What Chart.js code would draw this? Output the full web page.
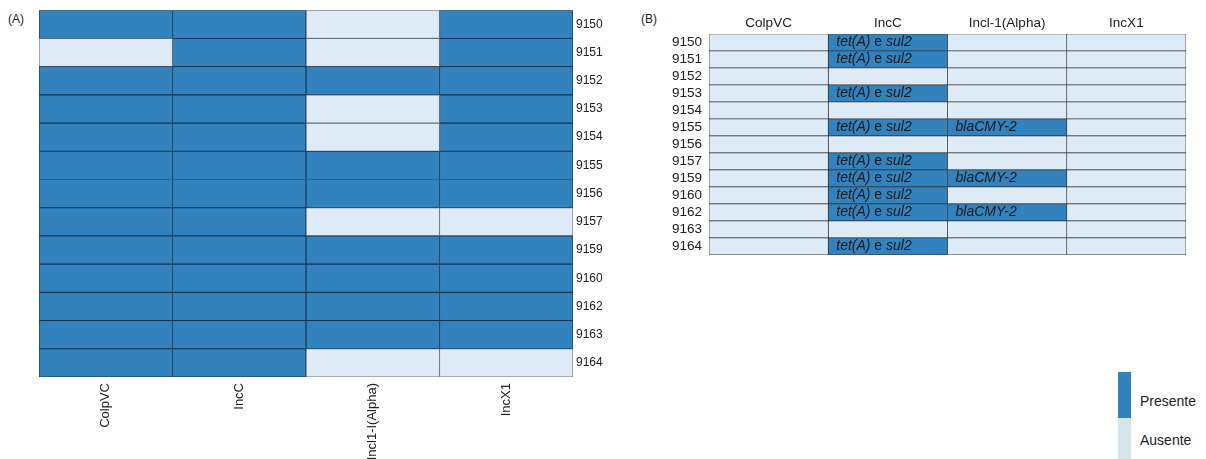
<!DOCTYPE html>
<html>
<head>
<meta charset="utf-8">
<script src="https://cdn.jsdelivr.net/npm/chart.js@4.4.1/dist/chart.umd.min.js"></script>
<style>
    body { margin: 0; background: #fff; font-family: 'Liberation Sans', Arial, sans-serif; }
    .wrap { position: relative; width: 1206px; height: 459px; overflow: hidden; }
    canvas { position: absolute; }
    .tag { position: absolute; font-size: 12px; color: #222; }
    .key { position: absolute; left: 1118px; width: 13px; }
    .key-label { position: absolute; left: 1140px; font-size: 14px; color: #222; }
</style>
</head>
<body>
<div class="wrap">
    <div class="tag" style="left:8px; top:12px;">(A)</div>
    <div class="tag" style="left:641px; top:12px;">(B)</div>
    <canvas id="heatA" width="620" height="459" style="left:0; top:0;"></canvas>
    <canvas id="heatB" width="566" height="270" style="left:640px; top:0;"></canvas>
    <div class="key" style="top:372px; height:46px; background:#3182bd;"></div>
    <div class="key" style="top:418px; height:45px; background:#d4e6e8;"></div>
    <div class="key-label" style="top:393px;">Presente</div>
    <div class="key-label" style="top:432px;">Ausente</div>
</div>
<script>
// Isolates (rows) and replicons (columns)
const rowsA = ['9150', '9151', '9152', '9153', '9154', '9155', '9156', '9157', '9159', '9160', '9162', '9163', '9164'];
const colsA = ['ColpVC', 'IncC', 'Incl1-I(Alpha)', 'IncX1'];

// 1 = presente, 0 = ausente
const colpVC = [1, 0, 1, 1, 1, 1, 1, 1, 1, 1, 1, 1, 1];
const incC   = [1, 1, 1, 1, 1, 1, 1, 1, 1, 1, 1, 1, 1];
const incl1  = [0, 0, 1, 0, 0, 1, 1, 0, 1, 1, 1, 1, 0];
const incX1  = [1, 1, 1, 1, 1, 1, 1, 0, 1, 1, 1, 1, 0];

// Resistance genes carried by each replicon
const rowsB = rowsA;
const colsB = ['ColpVC', 'IncC', 'Incl-1(Alpha)', 'IncX1'];
const genesColpVC = ['', '', '', '', '', '', '', '', '', '', '', '', ''];
const genesIncC = ['tet(A) e sul2', 'tet(A) e sul2', '', 'tet(A) e sul2', '', 'tet(A) e sul2', '',
    'tet(A) e sul2', 'tet(A) e sul2', 'tet(A) e sul2', 'tet(A) e sul2', '', 'tet(A) e sul2'];
const genesIncl1 = ['', '', '', '', '', 'blaCMY-2', '', '', 'blaCMY-2', '', 'blaCMY-2', '', ''];
const genesIncX1 = ['', '', '', '', '', '', '', '', '', '', '', '', ''];

const DARK = '#3182bd';
const LIGHT = '#deebf7';
const FONT = "'Liberation Sans', Arial, sans-serif";

// one floating bar per cell: column i spans [i, i + 1] on the value axis
function column(i, present) {
    return {
        data: present.map(() => [i, i + 1]),
        backgroundColor: present.map(p => p ? DARK : LIGHT),
        borderColor: present.map(p => p ? '#1a3650' : '#65717b'),
        borderWidth: 0.9,
        borderSkipped: false,
        grouped: false,
        barPercentage: 1,
        categoryPercentage: 1
    };
}

function centredTicks(names) {
    return function(scale) {
        scale.ticks = names.map((_, i) => ({ value: i + 0.5 }));
    };
}

// Panel A
new Chart(document.getElementById('heatA'), {
    type: 'bar',
    data: {
        labels: rowsA,
        datasets: [colpVC, incC, incl1, incX1].map((p, i) => column(i, p))
    },
    options: {
        indexAxis: 'y',
        responsive: false,
        animation: false,
        layout: { padding: { left: 39, top: 10, right: 0, bottom: 0 } },
        plugins: { legend: { display: false }, tooltip: { enabled: false } },
        scales: {
            x: {
                type: 'linear',
                min: 0,
                max: colsA.length,
                afterBuildTicks: centredTicks(colsA),
                afterFit: s => { s.height = 82; },
                grid: { display: false, drawTicks: false },
                border: { display: false },
                ticks: {
                    autoSkip: false,
                    minRotation: 90,
                    maxRotation: 90,
                    padding: 6,
                    color: '#222',
                    font: { family: FONT, size: 13 },
                    callback: (v, i) => colsA[i]
                }
            },
            y: {
                position: 'right',
                afterFit: s => { s.width = 47; },
                grid: { display: false, drawTicks: false },
                border: { display: false },
                ticks: { autoSkip: false, padding: 3, color: '#222', font: { family: FONT, size: 12 } }
            }
        }
    }
});

// Gene names in italics, the joining "e" upright
const cellText = {
    id: 'cellText',
    afterDatasetsDraw(chart) {
        const ctx = chart.ctx;
        ctx.save();
        ctx.fillStyle = '#1a1a1a';
        ctx.textBaseline = 'middle';
        chart.data.datasets.forEach((ds, di) => {
            chart.getDatasetMeta(di).data.forEach((bar, i) => {
                const txt = ds.genes[i];
                if (!txt) return;
                let x = Math.min(bar.x, bar.base) + 8;
                txt.split(' e ').forEach((part, k) => {
                    if (k > 0) {
                        ctx.font = '14px ' + FONT;
                        ctx.fillText(' e ', x, bar.y);
                        x += ctx.measureText(' e ').width;
                    }
                    ctx.font = 'italic 14px ' + FONT;
                    ctx.fillText(part, x, bar.y);
                    x += ctx.measureText(part).width;
                });
            });
        });
        ctx.restore();
    }
};

// Panel B
const genesB = [genesColpVC, genesIncC, genesIncl1, genesIncX1];
new Chart(document.getElementById('heatB'), {
    type: 'bar',
    data: {
        labels: rowsB,
        datasets: genesB.map((g, i) => {
            const ds = column(i, g.map(t => t ? 1 : 0));
            ds.borderColor = '#333';
            ds.borderWidth = 0.7;
            ds.genes = g;
            return ds;
        })
    },
    options: {
        indexAxis: 'y',
        responsive: false,
        animation: false,
        layout: { padding: { left: 0, top: 0, right: 20, bottom: 15 } },
        plugins: { legend: { display: false }, tooltip: { enabled: false } },
        scales: {
            x: {
                type: 'linear',
                position: 'top',
                min: 0,
                max: colsB.length,
                afterBuildTicks: centredTicks(colsB),
                afterFit: s => { s.height = 34; },
                grid: { display: false, drawTicks: false },
                border: { display: false },
                ticks: {
                    autoSkip: false,
                    minRotation: 0,
                    maxRotation: 0,
                    padding: 3,
                    color: '#222',
                    font: { family: FONT, size: 13.5 },
                    callback: (v, i) => colsB[i]
                }
            },
            y: {
                afterFit: s => { s.width = 69; },
                grid: { display: false, drawTicks: false },
                border: { display: false },
                ticks: { autoSkip: false, padding: 7, color: '#222', font: { family: FONT, size: 13.5 } }
            }
        }
    },
    plugins: [cellText]
});
</script>
</body>
</html>
